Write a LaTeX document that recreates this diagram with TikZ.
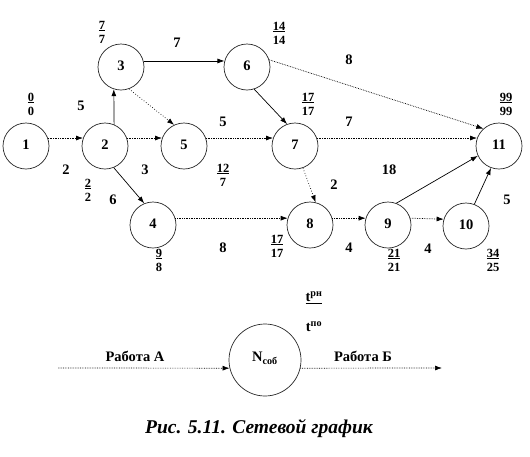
\documentclass[tikz,border=0pt]{standalone}
\usepackage{fontspec}
\setmainfont{Liberation Serif}
\usetikzlibrary{arrows.meta}
\begin{document}
\begin{tikzpicture}[x=1pt,y=-1pt,
  ev/.style={circle,draw=black!85,line width=0.7pt,minimum size=46pt,inner sep=0pt,font=\fontsize{14.5}{16}\selectfont\bfseries},
  big/.style={circle,draw=black!85,line width=0.7pt,minimum size=72pt,inner sep=0pt,font=\fontsize{14.5}{16}\selectfont\bfseries},
  fr/.style={align=center,inner sep=0pt,font=\fontsize{12.5}{14}\selectfont\bfseries},
  lab/.style={inner sep=0pt,font=\fontsize{14.5}{16}\selectfont\bfseries},
  arr/.style={-{Latex[length=7pt,width=5pt]},line width=0.7pt},
  dot/.style={arr,densely dotted},
  sdot/.style={arr,dotted}]
\useasboundingbox (0,0) rectangle (530,456);
% events
\node[ev] (n1) at (26,146) {\raisebox{2pt}{1}};
\node[ev] (n2) at (105,146) {\raisebox{2pt}{2}};
\node[ev] (n3) at (121,67) {\raisebox{2pt}{3}};
\node[ev] (n5) at (184,146) {\raisebox{2pt}{5}};
\node[ev] (n6) at (247,67) {\raisebox{2pt}{6}};
\node[ev] (n7) at (295,146) {\raisebox{2pt}{7}};
\node[ev] (n11) at (499,146) {\raisebox{2pt}{11}};
\node[ev] (n4) at (153,225) {\raisebox{2pt}{4}};
\node[ev] (n8) at (310,225) {\raisebox{2pt}{8}};
\node[ev] (n9) at (388,225) {\raisebox{2pt}{9}};
\node[ev] (n10) at (466,226) {\raisebox{2pt}{10}};
% activities
\draw[dot] (n1.20) -- (n2.160);
\draw[arr] (n2.67) -- (n3.-108);
\draw[dot] (n2.20) -- (n5.160);
\draw[arr] (n2.-68) -- (n4.112);
\draw[arr] (n3.15) -- (n6.165);
\draw[sdot] (n3.-70) -- (n5.115);
\draw[dot] (n5.20) -- (n7.160);
\draw[arr] (n6.-72) -- (n7.110);
\draw[dot] (n6.18) -- (n11.132);
\draw[dot] (n7.20) -- (n11.160);
\draw[sdot] (n7.-70) -- (n8.76);
\draw[dot] (n4.17) -- (n8.163);
\draw[dot] (n8.17) -- (n9.163);
\draw[dot] (n9.17) -- (n10.163);
\draw[arr] (n9.69) -- (n11.205);
\draw[arr] (n10.69) -- (n11.-110);
% durations
\node[lab] (d12) at (66,170) {2};
\node[lab] (d23) at (81,106) {5};
\node[lab] (d25) at (145,170) {3};
\node[lab] (d24) at (113,200) {6};
\node[lab] (d36) at (177,43) {7};
\node[lab] (d57) at (223,122) {5};
\node[lab] (d611) at (349,60) {8};
\node[lab] (d711) at (349,122) {7};
\node[lab] (d911) at (389,170) {18};
\node[lab] (d78) at (334,185) {2};
\node[lab] (d48) at (223,248) {8};
\node[lab] (d89) at (349,248) {4};
\node[lab] (d910) at (428,249) {4};
\node[lab] (d1011) at (507,200) {5};
% event times
\node[fr] (f1) at (31,104) {\underline{0}\\0};
\node[fr] (f3) at (102,32) {\underline{7}\\7};
\node[fr] (f6) at (279,33) {\underline{14}\\14};
\node[fr] (f7) at (308,104) {\underline{17}\\17};
\node[fr] (f11) at (506,104) {\underline{99}\\99};
\node[fr] (f2) at (88,190) {\underline{2}\\2};
\node[fr] (f5) at (223,175) {\underline{12}\\7};
\node[fr] (f4) at (159,260) {\underline{9}\\8};
\node[fr] (f8) at (277,246) {\underline{17}\\17};
\node[fr] (f9) at (394,260) {\underline{21}\\21};
\node[fr] (f10) at (493,260) {\underline{34}\\25};
% legend
\node[big] (N) at (265,360) {\raisebox{6pt}{N\textsubscript{соб}}};
\coordinate (la) at (58,368);
\coordinate (lb) at (442,368);
\draw[dot] (la) -- (N.193);
\draw[dot] (N.-13) -- (lb);
\node[lab] (ra) at (135,356) {Работа А};
\node[lab] (rb) at (363,356) {Работа Б};
\node[lab] (tr) at (314,298) {\underline{t\textsuperscript{рн}}};
\node[lab] (tp) at (314,327) {t\textsuperscript{по}};
\node[inner sep=0pt,font=\fontsize{19.5}{22}\selectfont\bfseries\itshape] (cap) at (259,429) {Рис. 5.11. Сетевой график};
\end{tikzpicture}
\end{document}
